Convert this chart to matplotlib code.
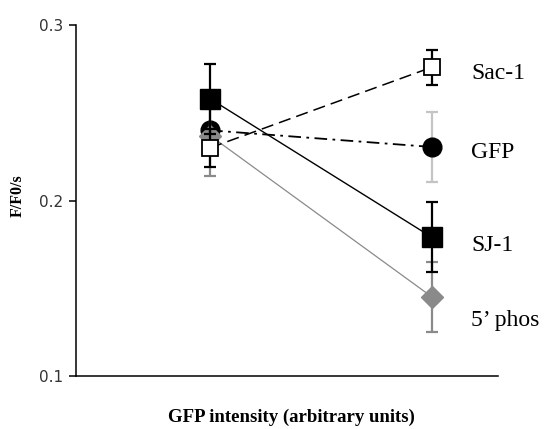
import matplotlib.pyplot as plt

# Two conditions on x
x = [1, 2]
series = ['Sac-1', 'GFP', 'SJ-1', "5\u2019 phos"]
sac1 = [0.230, 0.276]
sac1_err = [0.011, 0.010]
gfp = [0.240, 0.2305]
gfp_err = [0.012, 0.020]
sj1 = [0.258, 0.179]
sj1_err = [0.020, 0.020]
phos = [0.237, 0.145]
phos_err = [0.023, 0.020]
label_y = [0.2726, 0.2275, 0.1743, 0.1314]

fig = plt.figure(figsize=(5.45, 4.29), dpi=100)
ax = fig.add_axes([0.1394, 0.1235, 0.7744, 0.8182])

# GFP: black circles, dash-dot line, light grey error bars
ax.errorbar(x, gfp, yerr=gfp_err, fmt='none', ecolor='#c4c4c4', elinewidth=1.6,
            capsize=4.5, capthick=1.6, zorder=2)
ax.plot(x, gfp, color='black', linestyle=(0, (7, 3, 1.5, 3)), linewidth=1.3,
        marker='o', markersize=13.5, markerfacecolor='black', zorder=3)

# 5' phos: grey diamonds, thin grey line
ax.errorbar(x, phos, yerr=phos_err, fmt='none', ecolor='#8a8a8a', elinewidth=1.6,
            capsize=4.5, capthick=1.6, zorder=4)
ax.plot(x, phos, color='#8a8a8a', linewidth=0.9, marker='D', markersize=11.5,
        markerfacecolor='#8a8a8a', markeredgecolor='#8a8a8a', zorder=5)

# SJ-1: black filled squares, solid line
ax.errorbar(x, sj1, yerr=sj1_err, fmt='none', ecolor='black', elinewidth=1.6,
            capsize=4.5, capthick=1.6, zorder=6)
ax.plot(x, sj1, color='black', linewidth=1.0, marker='s', markersize=14.5,
        markerfacecolor='black', zorder=7)

# Sac-1: open squares, dashed line
ax.errorbar(x, sac1, yerr=sac1_err, fmt='none', ecolor='black', elinewidth=1.6,
            capsize=4.5, capthick=1.6, zorder=8)
ax.plot(x, sac1, color='black', linestyle=(0, (8, 4)), linewidth=1.1, marker='s',
        markersize=11.5, markerfacecolor='white', markeredgecolor='black',
        markeredgewidth=1.3, zorder=9)

for name, ly in zip(series, label_y):
    ax.text(2.176, ly, name, fontsize=17, family='Liberation Serif',
            va='center', ha='left', clip_on=False)

ax.set_xlim(0.396, 2.297)
ax.set_ylim(0.1, 0.3)
ax.set_yticks([0.1, 0.2, 0.3])
ax.set_yticklabels(['0.1', '0.2', '0.3'])
ax.set_xticks([])
ax.spines['top'].set_visible(False)
ax.spines['right'].set_visible(False)
ax.spines['left'].set_linewidth(1.1)
ax.spines['bottom'].set_linewidth(1.1)
ax.tick_params(axis='y', length=5, width=1.1, pad=4, labelsize=11, labelcolor='#333333')

fig.text(0.033, 0.543, 'F/F0/s', rotation=90, fontsize=11.5, fontweight='bold',
         family='Liberation Serif', va='center', ha='center')
fig.text(0.535, 0.028, 'GFP intensity (arbitrary units)', fontsize=13.5,
         fontweight='bold', family='Liberation Serif', va='center', ha='center')

fig.savefig('out.png', dpi=100)
